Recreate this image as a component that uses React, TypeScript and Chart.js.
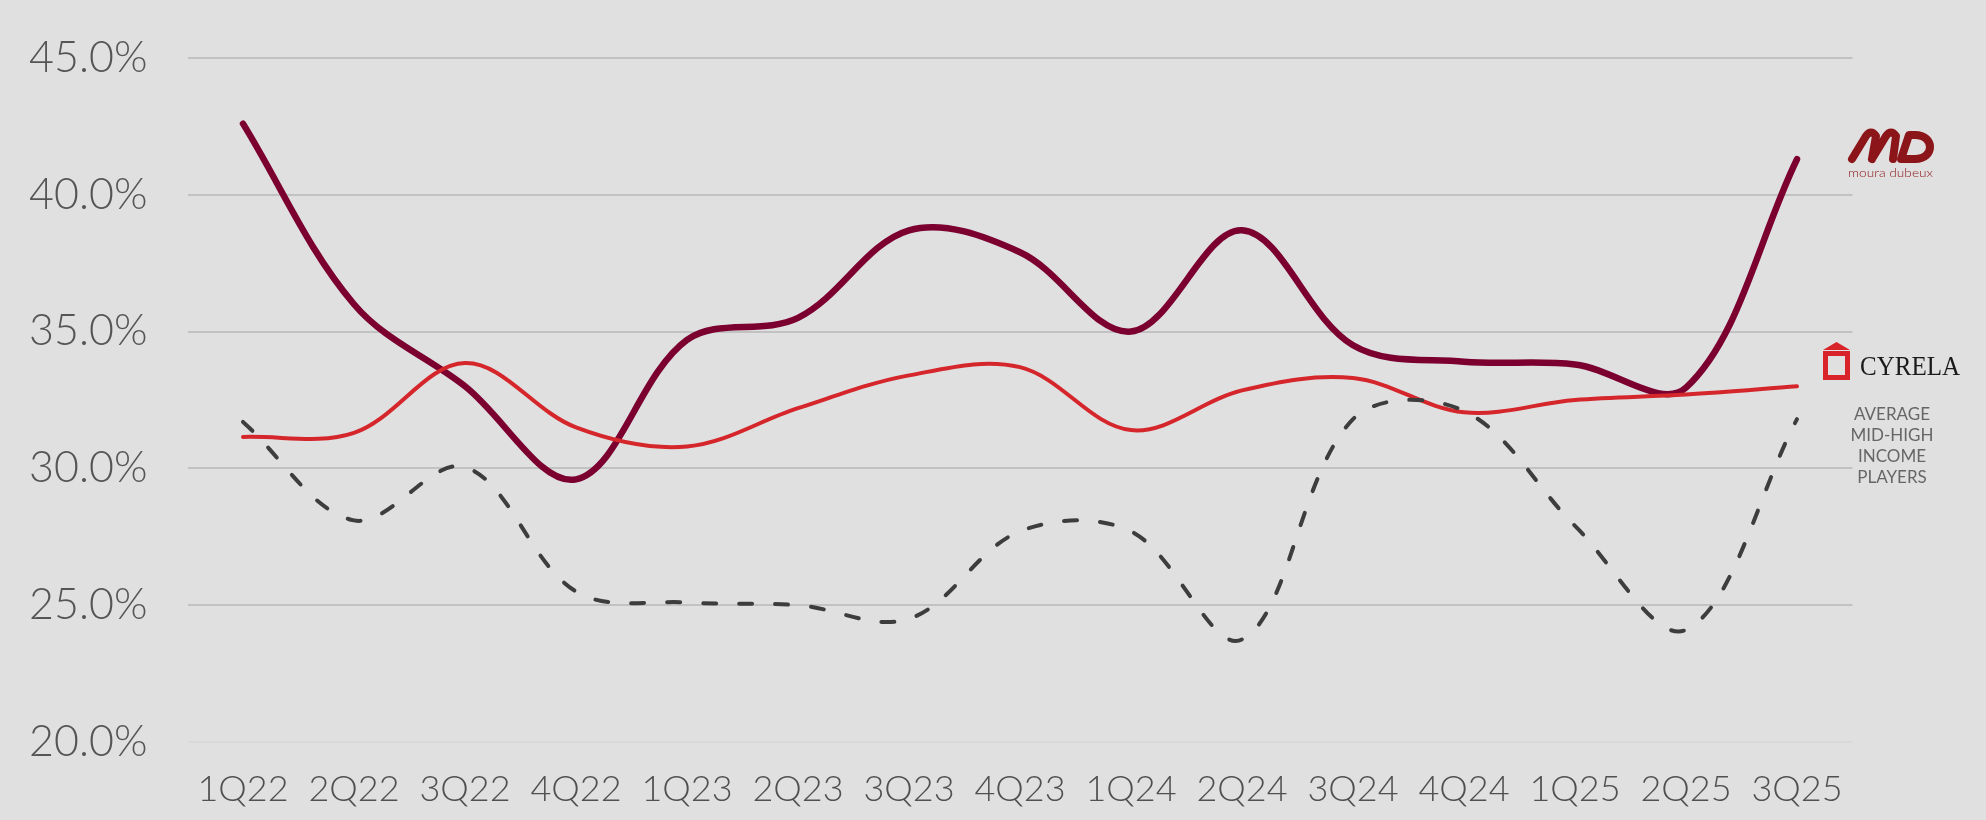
import React, { useEffect, useRef } from 'react';
import { Chart, registerables } from 'chart.js';

Chart.register(...registerables);

// Quarterly gross margin (%) by company / peer group
const quarters = ['1Q22', '2Q22', '3Q22', '4Q22', '1Q23', '2Q23', '3Q23', '4Q23', '1Q24', '2Q24', '3Q24', '4Q24', '1Q25', '2Q25', '3Q25'];
const mouraDubeux = [42.6, 36.0, 33.0, 29.6, 34.7, 35.5, 38.7, 37.9, 35.0, 38.7, 34.5, 33.9, 33.8, 32.95, 41.3];
const cyrela = [31.15, 31.3, 33.85, 31.5, 30.8, 32.2, 33.4, 33.7, 31.4, 32.85, 33.3, 32.05, 32.5, 32.7, 33.0];
const averageMidHigh = [31.7, 28.1, 30.05, 25.5, 25.1, 25.0, 24.5, 27.7, 27.7, 23.75, 31.8, 32.1, 27.9, 24.1, 31.8];
const yMin = 20;
const yMax = 45;
const yStep = 5;

const W = 1986;
const H = 820;
const axisFont = 'Lato, "Open Sans", sans-serif';

export default function App() {
  const canvasRef = useRef<HTMLCanvasElement>(null);

  useEffect(() => {
    const chart = new Chart(canvasRef.current as HTMLCanvasElement, {
      type: 'line',
      data: {
        labels: quarters,
        datasets: [
          {
            label: 'Average mid-high income players',
            data: averageMidHigh,
            borderColor: '#3d3d3d',
            borderWidth: 4,
            borderDash: [13, 23],
            order: 0,
          },
          {
            label: 'Cyrela',
            data: cyrela,
            borderColor: '#d5262c',
            borderWidth: 4,
            order: 1,
          },
          {
            label: 'Moura Dubeux',
            data: mouraDubeux,
            borderColor: '#7b0030',
            borderWidth: 6.5,
            order: 2,
          },
        ],
      },
      options: {
        responsive: false,
        animation: false,
        layout: { padding: { top: 58, right: 133.5, left: 0, bottom: 0 } },
        elements: {
          point: { radius: 0, hoverRadius: 0 },
          line: { tension: 0.35, borderCapStyle: 'round', borderJoinStyle: 'round', fill: false },
        },
        plugins: { legend: { display: false }, tooltip: { enabled: false } },
        scales: {
          x: {
            type: 'category',
            offset: true,
            grid: { display: false, drawTicks: false },
            border: { display: false },
            ticks: {
              color: '#505050',
              font: { family: axisFont, size: 36, weight: 300 },
              padding: 26,
              maxRotation: 0,
              autoSkip: false,
            },
            afterFit: (scale: any) => {
              scale.height = 78;
            },
          },
          y: {
            min: yMin,
            max: yMax,
            ticks: {
              stepSize: yStep,
              color: '#555555',
              font: { family: axisFont, size: 43, weight: 300 },
              padding: 40,
              callback: (v: any) => Number(v).toFixed(1) + '%',
            },
            grid: {
              color: (ctx: any) => (ctx.tick && ctx.tick.value === yMin ? '#d9d9d9' : '#c2c2c2'),
              lineWidth: 2,
              drawTicks: false,
            },
            border: { display: false },
            afterFit: (scale: any) => {
              // fixed axis width; labels may overhang the plot vertically
              scale.width = 187.5;
              scale.paddingTop = 0;
              scale.paddingBottom = 0;
            },
          },
        },
      },
    });
    return () => chart.destroy();
  }, []);

  return (
    <div style={{ position: 'fixed', left: 0, top: 0, width: W, height: H, background: '#e0e0e0', overflow: 'hidden' }}>
      <canvas ref={canvasRef} width={W} height={H} style={{ position: 'absolute', left: 0, top: 0, width: W, height: H }} />
      <svg width={W} height={H} style={{ position: 'absolute', left: 0, top: 0, pointerEvents: 'none' }}>
        {/* Moura Dubeux mark */}
        <g stroke="#8b1518" strokeWidth={8} strokeLinecap="round" strokeLinejoin="round" fill="none">
          <path d="M1852 159 L1866 136 Q1871 129 1876 136 L1872 159 M1872 159 L1886 136 Q1891 129 1896 136 L1893 159" />
          <path d="M1901 159 L1909 135 L1915 135 C1935 135 1935 159 1915 159 Z" />
        </g>
        <text x={1848} y={177} fill="#8b1518" fontSize={12} fontWeight={300} fontFamily={axisFont} textLength={85} lengthAdjust="spacingAndGlyphs">
          moura dubeux
        </text>
        {/* Cyrela mark */}
        <polygon points="1823,350 1836.5,342 1850,350" fill="#d8232a" />
        <rect x={1825.5} y={353.5} width={22} height={24} fill="none" stroke="#d8232a" strokeWidth={5} />
        <text x={1860} y={375} fill="#1a1a1a" fontSize={27} fontFamily='"Liberation Serif", "DejaVu Serif", serif' textLength={100} lengthAdjust="spacingAndGlyphs">
          CYRELA
        </text>
        <g fill="#666666" fontSize={17} fontFamily={axisFont} textAnchor="middle">
          <text x={1892} y={420}>AVERAGE</text>
          <text x={1892} y={441}>MID-HIGH</text>
          <text x={1892} y={462}>INCOME</text>
          <text x={1892} y={483}>PLAYERS</text>
        </g>
      </svg>
    </div>
  );
}
